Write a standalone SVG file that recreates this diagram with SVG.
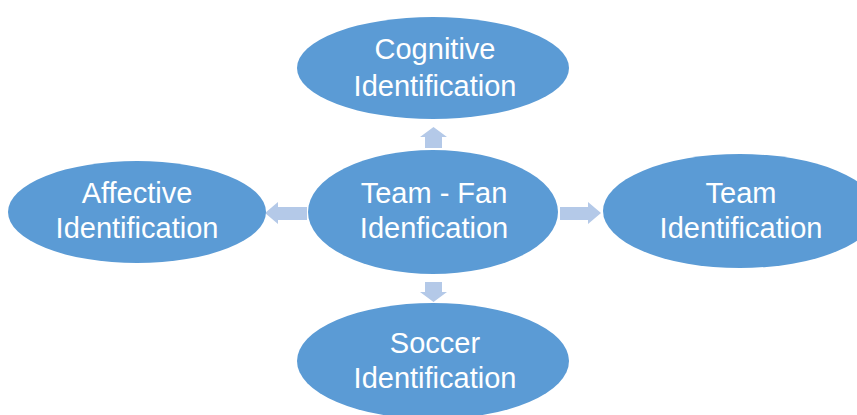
<svg xmlns="http://www.w3.org/2000/svg" width="857" height="415" viewBox="0 0 857 415">
<style>
.node ellipse{fill:#5b9bd5;}
.node text{fill:#ffffff;font-family:"Liberation Sans",Arial,sans-serif;font-size:29px;text-anchor:middle;}
.arrow{fill:#b4c9e8;}
</style>
<rect width="857" height="415" fill="#ffffff"/>
<g id="connectors">
<polygon class="arrow" points="425,148 425,137 420,137 433.5,127 447,137 442,137 442,148"/>
<polygon class="arrow" points="307,207 278,207 278,202 265,213 278,224 278,220 307,220"/>
<polygon class="arrow" points="560,207 588,207 588,202 601,213 588,224 588,220 560,220"/>
<polygon class="arrow" points="425,282 425,292 420,292 433.5,302 447,292 442,292 442,282"/>
</g>
<g id="node-cognitive" class="node">
<ellipse cx="433" cy="68" rx="136" ry="51"/>
<text x="435" y="59">Cognitive</text>
<text x="435" y="96">Identification</text>
</g>
<g id="node-center" class="node">
<ellipse cx="433" cy="212" rx="125" ry="62"/>
<text x="434" y="203">Team - Fan</text>
<text x="434" y="238">Idenfication</text>
</g>
<g id="node-affective" class="node">
<ellipse cx="137" cy="212" rx="129" ry="51"/>
<text x="137" y="203">Affective</text>
<text x="137" y="238">Identification</text>
</g>
<g id="node-team" class="node">
<ellipse cx="740" cy="211" rx="137" ry="57"/>
<text x="741" y="203">Team</text>
<text x="741" y="238">Identification</text>
</g>
<g id="node-soccer" class="node">
<ellipse cx="433" cy="361" rx="136" ry="58"/>
<text x="435" y="353">Soccer</text>
<text x="435" y="388">Identification</text>
</g>
</svg>
